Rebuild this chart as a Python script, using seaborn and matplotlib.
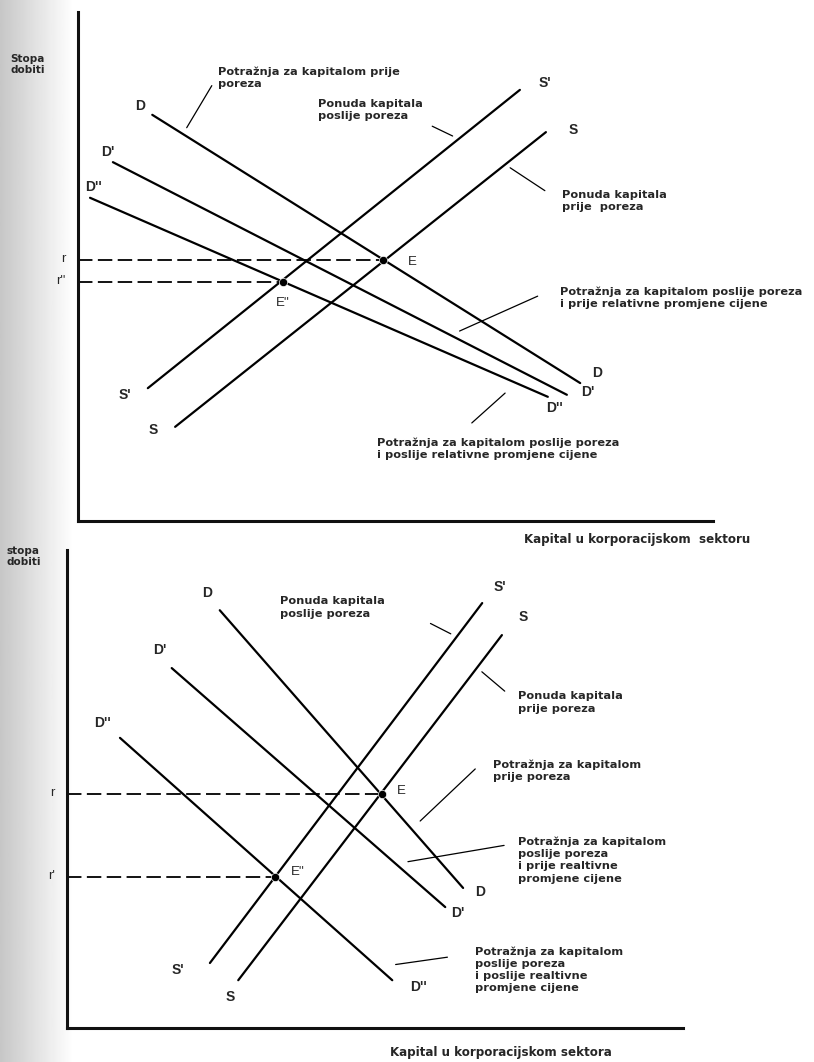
import numpy as np
import pandas as pd
import seaborn as sns
from matplotlib import pyplot as plt

# ---------- top diagram (both axes in 0-100 units) ----------
top_curves = ["D", "D'", "D''", "S", "S'"]
top_k_start = [11.7, 5.5, 1.9, 15.3, 11.0]
top_r_start = [79.8, 70.5, 63.5, 18.5, 26.1]
top_k_end = [79.1, 77.0, 74.0, 73.7, 69.6]
top_r_end = [27.1, 24.8, 24.4, 76.4, 84.7]
top_eq = ["E", "E''"]
top_eq_k = [48.0, 32.3]
top_eq_r = [51.2, 47.0]
top_rates = ["r", "r''"]

# ---------- bottom diagram ----------
bot_curves = ["D", "D'", "D''", "S", "S'"]
bot_k_start = [24.8, 17.0, 8.6, 27.8, 23.2]
bot_r_start = [87.4, 75.3, 60.7, 10.0, 13.6]
bot_k_end = [64.3, 61.4, 52.8, 70.6, 67.4]
bot_r_end = [29.3, 25.3, 10.0, 82.2, 88.9]
bot_eq = ["E", "E''"]
bot_eq_k = [51.1, 33.8]
bot_eq_r = [49.0, 31.6]
bot_rates = ["r", "r'"]

NOTE_FONT = ["DejaVu Sans"]


def curves_frame(names, k0, r0, k1, r1):
    rows = []
    for n, a, b, c, d in zip(names, k0, r0, k1, r1):
        rows.append({"curve": n, "k": a, "r": b})
        rows.append({"curve": n, "k": c, "r": d})
    return pd.DataFrame(rows)


def draw_panel(ax, names, k0, r0, k1, r1, eq, eq_k, eq_r, rates,
               start_off, end_off, eq_off):
    df = curves_frame(names, k0, r0, k1, r1)
    sns.lineplot(data=df, x="k", y="r", units="curve", estimator=None,
                 sort=False, color="black", lw=1.6, ax=ax)
    # dashed guides from the vertical axis to the equilibria
    for k, r in zip(eq_k, eq_r):
        g = pd.DataFrame({"k": [0, k], "r": [r, r]})
        sns.lineplot(data=g, x="k", y="r", color="black", lw=1.3,
                     linestyle=(0, (8, 3)), ax=ax)
    sns.scatterplot(x=eq_k, y=eq_r, color="black", s=35, ax=ax, zorder=5)
    for n, a, b, c, d, so, eo in zip(names, k0, r0, k1, r1, start_off, end_off):
        ax.annotate(n, (a, b), xytext=so, textcoords="offset pixels",
                    ha="center", va="center", fontsize=10, fontweight="bold",
                    annotation_clip=False)
        ax.annotate(n, (c, d), xytext=eo, textcoords="offset pixels",
                    ha="center", va="center", fontsize=10, fontweight="bold",
                    annotation_clip=False)
    for n, k, r, o in zip(eq, eq_k, eq_r, eq_off):
        ax.annotate(n, (k, r), xytext=o, textcoords="offset pixels",
                    ha="center", va="center", fontsize=9.5,
                    annotation_clip=False)
    for n, r in zip(rates, eq_r):
        ax.annotate(n, (0, r), xytext=(-12, 1), textcoords="offset pixels",
                    ha="right", va="center", fontsize=9.5,
                    annotation_clip=False)
    ax.set_xlim(0, 100)
    ax.set_ylim(0, 100)
    ax.set_xticks([])
    ax.set_yticks([])
    ax.set_xlabel("")
    ax.set_ylabel("")
    for s in ["top", "right"]:
        ax.spines[s].set_visible(False)
    for s in ["left", "bottom"]:
        ax.spines[s].set_linewidth(2.2)
        ax.spines[s].set_color("#111111")
    ax.patch.set_alpha(0)


def note(ax, txt, xy, line_from, line_to):
    ax.text(xy[0], xy[1], txt, ha="left", va="top", fontsize=8.2,
            fontweight="bold", family=NOTE_FONT, linespacing=1.28,
            clip_on=False)
    ax.annotate("", xy=line_to, xytext=line_from,
                arrowprops=dict(arrowstyle="-", lw=0.9, color="black"),
                annotation_clip=False)


sns.set_theme(style="white")
plt.rcParams["font.family"] = ["Liberation Sans", "DejaVu Sans"]

fig = plt.figure(figsize=(8.14, 10.62), dpi=100)

# scanned-page shading on the left edge
bg = fig.add_axes([0, 0, 0.09, 1])
shade = np.linspace(0.78, 1.0, 64).reshape(1, -1)
bg.imshow(shade, cmap="gray", vmin=0, vmax=1, aspect="auto",
          extent=[0, 1, 0, 1])
bg.set_axis_off()

ax1 = fig.add_axes([0.0958, 0.5094, 0.780, 0.4793])
draw_panel(ax1, top_curves, top_k_start, top_r_start, top_k_end, top_r_end,
           top_eq, top_eq_k, top_eq_r, top_rates,
           start_off=[(-12, 9), (-5, 10), (3, 11), (-22, -3), (-23, -7)],
           end_off=[(17, 10), (21, 3), (7, -11), (27, 2), (25, 7)],
           eq_off=[(30, -2), (0, -21)])
ax1.text(-10.6, 91.8, "Stopa\ndobiti", ha="left", va="top", fontsize=7.5,
         fontweight="bold", family=NOTE_FONT, linespacing=1.1, clip_on=False)
ax1.text(70.2, -3.6, "Kapital u korporacijskom  sektoru", ha="left",
         va="center", fontsize=8.6, fontweight="bold", family=NOTE_FONT,
         clip_on=False)
note(ax1, "Potražnja za kapitalom prije\nporeza", (22.0, 89.3),
     (21.3, 86.0), (16.9, 76.8))
note(ax1, "Ponuda kapitala\nposlije poreza", (37.8, 82.9),
     (55.4, 77.8), (59.4, 75.4))
note(ax1, "Ponuda kapitala\nprije  poreza", (76.2, 65.1),
     (67.7, 69.7), (73.9, 64.6))
note(ax1, "Potražnja za kapitalom poslije poreza\ni prije relativne promjene cijene",
     (75.9, 46.1), (59.7, 37.1), (72.8, 44.4))
note(ax1, "Potražnja za kapitalom poslije poreza\ni poslije relativne promjene cijene",
     (47.1, 16.5), (61.7, 18.9), (67.6, 25.5))

ax2 = fig.add_axes([0.0823, 0.0320, 0.7568, 0.4501])
draw_panel(ax2, bot_curves, bot_k_start, bot_r_start, bot_k_end, bot_r_end,
           bot_eq, bot_eq_k, bot_eq_r, bot_rates,
           start_off=[(-13, 17), (-12, 18), (-17, 15), (-8, -17), (-32, -7)],
           end_off=[(17, -4), (13, -6), (26, -7), (21, 18), (18, 16)],
           eq_off=[(20, 3), (23, 5)])
ax2.text(-9.9, 100.8, "stopa\ndobiti", ha="left", va="top", fontsize=7.5,
         fontweight="bold", family=NOTE_FONT, linespacing=1.1, clip_on=False)
ax2.text(52.4, -5.2, "Kapital u korporacijskom sektora", ha="left",
         va="center", fontsize=8.6, fontweight="bold", family=NOTE_FONT,
         clip_on=False)
note(ax2, "Ponuda kapitala\nposlije poreza", (34.6, 90.3),
     (58.6, 84.9), (62.7, 82.2))
note(ax2, "Ponuda kapitala\nprije poreza", (73.2, 70.4),
     (67.0, 74.9), (71.4, 70.1))
note(ax2, "Potražnja za kapitalom\nprije poreza", (69.2, 56.2),
     (57.0, 42.9), (66.6, 54.6))
note(ax2, "Potražnja za kapitalom\nposlije poreza\ni prije realtivne\npromjene cijene",
     (73.2, 40.1), (54.9, 34.7), (71.4, 38.3))
note(ax2, "Potražnja za kapitalom\nposlije poreza\ni poslije realtivne\npromjene cijene",
     (66.2, 17.1), (52.9, 13.2), (62.2, 14.9))

plt.savefig("out.png", dpi=100)
plt.close()
